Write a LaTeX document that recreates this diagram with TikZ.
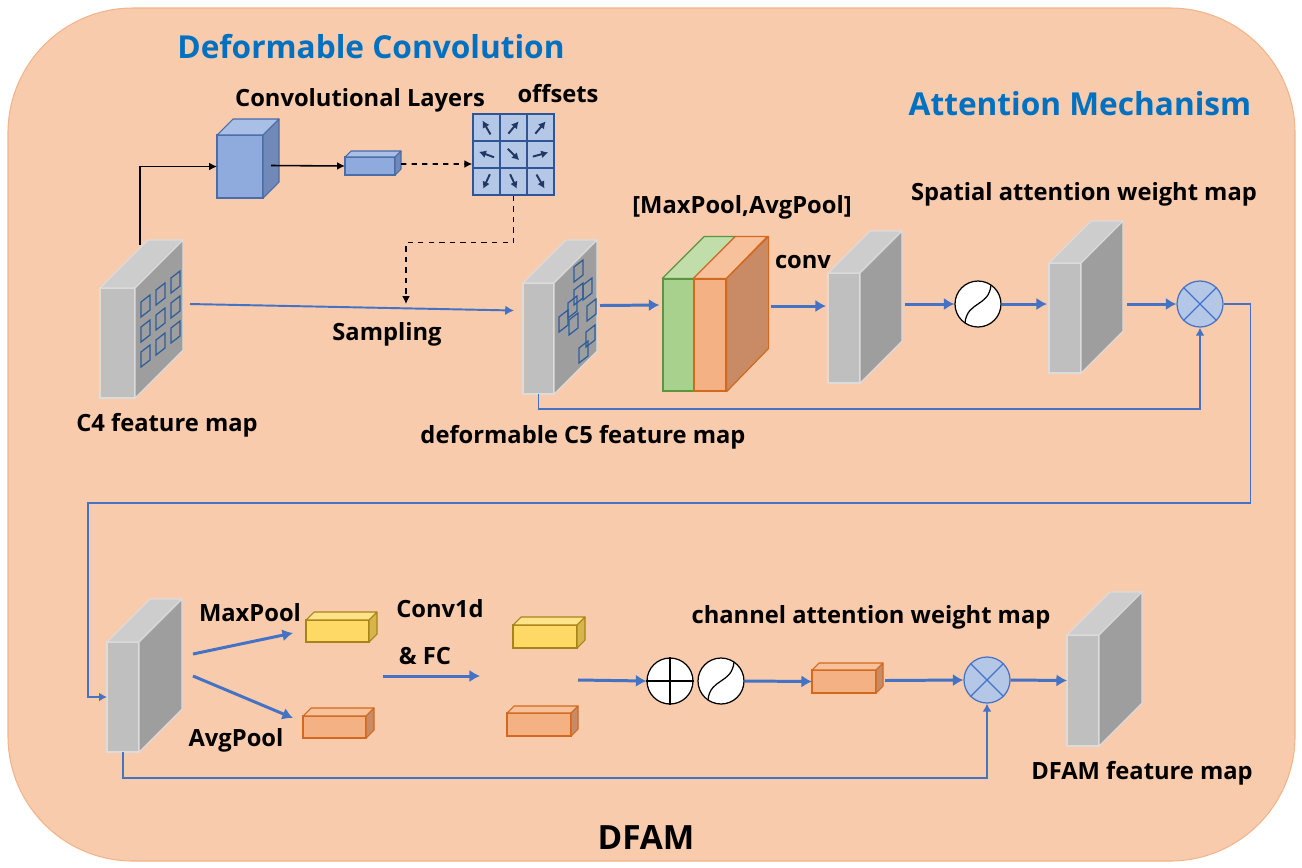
\documentclass[tikz,border=0pt]{standalone}
\usepackage{fontspec}
\setmainfont{Open Sans}
\usetikzlibrary{arrows.meta,calc,positioning}
\pgfdeclarelayer{bg}
\pgfsetlayers{bg,main}
\definecolor{peach}{HTML}{F8CBAD}
\definecolor{peachD}{HTML}{F2B48A}
\definecolor{headblue}{HTML}{0070C0}
\definecolor{linkblue}{HTML}{4472C4}
\definecolor{grayF}{HTML}{BFBFBF}
\definecolor{grayT}{HTML}{CDCDCD}
\definecolor{grayS}{HTML}{9E9E9E}
\definecolor{grayD}{HTML}{DCDCDC}
\definecolor{blueF}{HTML}{8FAADC}
\definecolor{blueT}{HTML}{A9BFE6}
\definecolor{blueS}{HTML}{7189B8}
\definecolor{blueD}{HTML}{4A6CA8}
\definecolor{yellowF}{HTML}{FFD966}
\definecolor{yellowT}{HTML}{FFE38A}
\definecolor{yellowS}{HTML}{D8B54C}
\definecolor{yellowD}{HTML}{A88418}
\definecolor{orangeF}{HTML}{F4B183}
\definecolor{orangeT}{HTML}{F7C19C}
\definecolor{orangeS}{HTML}{C88B66}
\definecolor{orangeD}{HTML}{D2691E}
\definecolor{greenF}{HTML}{A9D18E}
\definecolor{greenT}{HTML}{C0DDAA}
\definecolor{greenD}{HTML}{5E9440}
\definecolor{gridF}{HTML}{B4C7E7}
\definecolor{gridD}{HTML}{2F5597}
\definecolor{navy}{HTML}{1F3864}
\definecolor{patchblue}{HTML}{2E5C9A}
\tikzstyle{lbl} = [font=\bfseries\fontsize{13.5}{16}\selectfont, inner sep=1pt]
\tikzstyle{heading} = [font=\bfseries\fontsize{18}{21}\selectfont, text=headblue, inner sep=1pt]
\tikzstyle{line} = [draw=linkblue, -{Latex[length=6pt,width=7pt]}, line width=1.7pt]
\tikzstyle{thinline} = [draw=linkblue, -{Latex[length=4.5pt,width=5pt]}, line width=0.9pt]
\tikzstyle{blkline} = [draw=black, -{Latex[length=4.5pt,width=4.5pt]}, line width=0.9pt]
\tikzstyle{dashline} = [draw=black, -{Latex[length=4.5pt,width=4.5pt]}, dashed, line width=0.9pt]
\tikzstyle{opnode} = [circle, draw=black, fill=white, minimum size=0.92cm, inner sep=0pt, line width=0.7pt]
\tikzstyle{mulnode} = [circle, draw=linkblue, fill=gridF, minimum size=0.92cm, inner sep=0pt, line width=0.7pt]
% 3d block: name, front centre, width, height, depth (px), colour set
\newcommand{\cuboid}[6]{%
  \node[draw=#6D, fill=#6F, minimum width=#3*0.02cm, minimum height=#4*0.02cm, inner sep=0pt, outer sep=0pt, line width=0.6pt] (#1) at #2 {};
  \filldraw[draw=#6D, fill=#6T, line width=0.6pt, line join=round] (#1.north west) -- ++(#5,-#5) -- ++(#3,0) -- (#1.north east) -- cycle;
  \filldraw[draw=#6D, fill=#6S, line width=0.6pt, line join=round] (#1.north east) -- ++(#5,-#5) -- ++(0,#4) -- (#1.south east) -- cycle;
}
\begin{document}
\begin{tikzpicture}[x=0.02cm, y=-0.02cm]
    \useasboundingbox (0,0) rectangle (1302,867);
    \begin{pgfonlayer}{bg}
        \draw[fill=peach, draw=peachD, line width=0.6pt, rounded corners=2.5cm] (8,8) rectangle (1295,861);
    \end{pgfonlayer}

    \node[heading] (hdc) at (371,47) {Deformable Convolution};
    \node[heading] (ham) at (1080,104) {Attention Mechanism};
    \node[font=\bfseries\fontsize{19}{23}\selectfont, inner sep=1pt] (hdfam) at (646,838) {DFAM};

    % deformable convolution branch
    \cuboid{c4}{(117.5,343)}{35}{110}{48}{gray}
    \foreach \i in {0,1,2}
        \foreach \j in {0,1,2}
            \draw[patchblue, line width=0.7pt] ($(c4.north east)+(6+15*\i,14+25*\j-12*\i)$) -- ++(9,-7) -- ++(0,15) -- ++(-9,7) -- cycle;
    \node[lbl] (lc4) at (167,425) {C4 feature map};

    \cuboid{conv}{(240,166.5)}{46}{63}{16}{blue}
    \node[lbl] (lconv) at (360,100) {Convolutional Layers};
    \cuboid{sm}{(370,166)}{50}{18}{6}{blue}

    \node[draw=gridD, fill=gridF, minimum size=1.62cm, inner sep=0pt, line width=0.8pt] (offs) at (513.5,154.5) {};
    \foreach \k in {-13.5,13.5} {
        \draw[gridD, line width=0.8pt] ($(offs.center)+(\k,-40.5)$) -- ++(0,81);
        \draw[gridD, line width=0.8pt] ($(offs.center)+(-40.5,\k)$) -- ++(81,0);
    }
    \foreach \i/\j/\a in {0/0/120, 1/0/50, 2/0/50, 0/1/160, 1/1/-45, 2/1/15, 0/2/-115, 1/2/-65, 2/2/-60}
        \draw[navy, -{Latex[length=4pt,width=4.5pt]}, line width=1.1pt] ($(offs.center)+(-27+27*\i,-27+27*\j)+({-8*cos(\a)},{8*sin(\a)})$) -- ++({16*cos(\a)},{-16*sin(\a)});
    \node[lbl] (loffs) at (558,94) {offsets};

    \cuboid{c5}{(538.5,338.5)}{31}{111}{43}{gray}
    \foreach \u/\v in {20/-16, 20/7, 29/2, 14/20, 33/23, 5/34, 15/37, 32/49, 25/65}
        \draw[patchblue, line width=0.7pt] ($(c5.north east)+(\u,\v)$) -- ++(9,-7) -- ++(0,15) -- ++(-9,7) -- cycle;
    \node[lbl] (lc5) at (583,437) {deformable C5 feature map};

    \coordinate (samp) at (406,304);
    \node[lbl] (lsamp) at (387,334) {Sampling};

    \draw[blkline] ($(c4.north)+(22.5,-43)$) |- (conv.west);
    \draw[blkline] ($(conv.east)+(8,-1)$) -- (sm.west);
    \draw[dashline] ($(sm.east)+(6,-2)$) -- ($(offs.west)+(0,9.5)$);
    \draw[dashline] (offs.south) -- ++(0,47) -| (samp);
    \draw[draw=linkblue, -{Latex[length=5pt,width=5.5pt]}, line width=1.1pt] ($(c4.east)+(55,-39)$) -- ($(c5.west)+(-9,-28)$);

    % spatial attention
    \node[draw=greenD, fill=greenF, minimum width=0.62cm, minimum height=2.24cm, inner sep=0pt, line width=0.7pt] (mpg) at (678.5,335) {};
    \node[draw=orangeD, fill=orangeF, minimum width=0.64cm, minimum height=2.24cm, inner sep=0pt, line width=0.7pt] (mpo) at (710,335) {};
    \filldraw[draw=greenD, fill=greenT, line width=0.7pt, line join=round] (mpg.north west) -- ++(42,-42) -- ++(31,0) -- (mpg.north east) -- cycle;
    \filldraw[draw=orangeD, fill=orangeT, line width=0.7pt, line join=round] (mpo.north west) -- ++(42,-42) -- ++(32,0) -- (mpo.north east) -- cycle;
    \filldraw[draw=orangeD, fill=orangeS, line width=0.7pt, line join=round] (mpo.north east) -- ++(42,-42) -- ++(0,112) -- (mpo.south east) -- cycle;
    \node[lbl] (lmp) at (742,207) {[MaxPool,AvgPool]};
    \node[lbl] (lcv) at (803,262) {conv};

    \cuboid{cv}{(844,328)}{32}{110}{42}{gray}
    \node[opnode] (sig1) at (978,304) {};
    \cuboid{sw}{(1065,318)}{32}{110}{42}{gray}
    \node[lbl] (lsw) at (1084,194) {Spatial attention weight map};
    \node[mulnode] (ot1) at (1200,304) {};

    \draw[line] ($(c5.east)+(46,-33)$) -- ($(mpg.west)+(-3,-30)$);
    \draw[line] ($(mpo.east)+(44,-29)$) -- ($(cv.west)+(-2,-22)$);
    \draw[line] ($(cv.east)+(45,-24)$) -- (sig1.west);
    \draw[line] (sig1.east) -- ($(sw.west)+(-2,-14)$);
    \draw[line] ($(sw.east)+(46,-14)$) -- (ot1.west);
    \draw[thinline] (c5.south) -- ++(0,15) -| (ot1.south);

    % channel attention
    \coordinate (turn) at (88,503);
    \cuboid{bl}{(123,697)}{32}{110}{43}{gray}
    \draw[thinline] (ot1.east) -- ++(27,0) |- (turn) |- (bl.west);

    \cuboid{y1}{(337.5,631)}{63}{22}{8}{yellow}
    \cuboid{o1}{(334.5,727)}{63}{22}{8}{orange}
    \node[lbl] (lmax) at (250,613) {MaxPool};
    \node[lbl] (lavg) at (236,740) {AvgPool};
    \draw[line] ($(bl.east)+(54,-43)$) -- ($(y1.west)+(-13,2)$);
    \draw[line] ($(bl.east)+(54,-21)$) -- ($(o1.west)+(-10,-9)$);

    \node[lbl] (lc1d) at (440,609) {Conv1d};
    \node[lbl] (lfc) at (425,656) {\& FC};
    \coordinate (fcin) at (383,676);
    \coordinate (fcout) at (480,676);
    \draw[line] (fcin) -- (fcout);

    \cuboid{y2}{(545,636.5)}{64}{23}{8}{yellow}
    \cuboid{o2}{(539,724.5)}{64}{23}{7}{orange}

    \node[opnode] (op) at (670,681) {};
    \draw[line width=0.7pt] (op.north) -- (op.south) (op.west) -- (op.east);
    \node[opnode] (sig2) at (721,681) {};
    \foreach \s in {sig1,sig2}
        \draw[line width=0.7pt] ($(\s.center)+(-13,19)$) .. controls ($(\s.center)+(-11,-3)$) and ($(\s.center)+(11,3)$) .. ($(\s.center)+(13,-19)$);

    \cuboid{o3}{(844,681.5)}{64}{23}{7}{orange}
    \node[lbl] (lcw) at (871,617) {channel attention weight map};
    \node[mulnode] (ot2) at (987,680) {};
    \foreach \m in {ot1,ot2}
        \draw[linkblue, line width=0.7pt] (\m.north west) -- (\m.south east) (\m.north east) -- (\m.south west);

    \cuboid{dfam}{(1083,690.5)}{32}{111}{43}{gray}
    \node[lbl] (ldfam) at (1142,773) {DFAM feature map};

    \draw[line] ($(y2.south east)+(1,32)$) -- (op.west);
    \draw[line] (sig2.east) -- (o3.west);
    \draw[line] ($(o3.east)+(9,-1)$) -- (ot2.west);
    \draw[line] (ot2.east) -- ($(dfam.west)+(0,-10)$);
    \draw[thinline] (bl.south) -- ++(0,26) -| (ot2.south);
\end{tikzpicture}
\end{document}
